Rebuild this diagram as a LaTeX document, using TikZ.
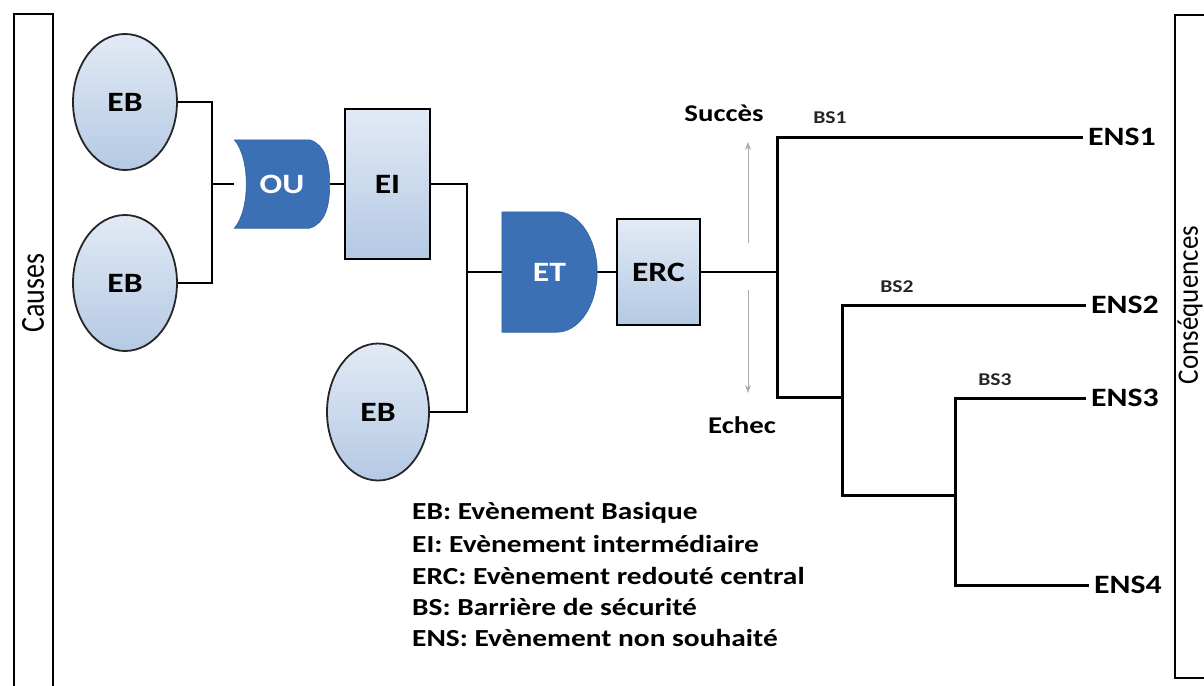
\documentclass[tikz,border=0pt]{standalone}
\usepackage{fontspec}
\setmainfont{Carlito}[FakeStretch=1.2]
\newfontfamily\plainfont{Carlito}
\usetikzlibrary{shapes.geometric,arrows.meta,calc}
\pgfdeclarelayer{bg}\pgfdeclarelayer{mid}
\pgfsetlayers{bg,mid,main}
\definecolor{gateblue}{HTML}{3B70B5}
\definecolor{lightA}{HTML}{E2EAF5}
\definecolor{lightB}{HTML}{B4C9E4}
\begin{document}
\begin{tikzpicture}[x=1pt,y=-1pt,
 ebnode/.style={ellipse, draw=black!85, line width=1.8pt, top color=lightA, bottom color=lightB, minimum width=104pt, minimum height=136pt, inner sep=0pt, font=\bfseries\fontsize{28}{30}\selectfont},
 boxnode/.style={rectangle, draw=black, line width=2.6pt, top color=lightA, bottom color=lightB, inner sep=0pt, font=\bfseries\fontsize{28}{30}\selectfont},
 gatenode/.style={rectangle, inner sep=0pt, text=white, font=\bfseries\fontsize{28}{30}\selectfont},
 gatefill/.style={fill=gateblue, draw=gateblue!85!black, line width=0.6pt},
 conn/.style={draw=black, line width=2.4pt},
 tree/.style={draw=black, line width=3pt},
 enslabel/.style={anchor=west, inner sep=5pt, font=\bfseries\fontsize{26.5}{28}\selectfont},
 bslabel/.style={inner sep=0pt, text=black!85, font=\bfseries\fontsize{18}{20}\selectfont},
 outcome/.style={inner sep=0pt, font=\bfseries\fontsize{24}{26}\selectfont},
 legend/.style={anchor=west, inner sep=0pt, font=\bfseries\fontsize{24.5}{26}\selectfont},
 hint/.style={draw=gray!65, line width=1pt, -{Stealth[length=8pt,width=6pt]}},
 frame/.style={draw=black, line width=2.2pt},
]
\useasboundingbox (0,0) rectangle (1204,685);

% side frames
\draw[frame] (14,700) -- (14,14) -- (53,14) -- (53,700);
\draw[frame] (1215,678) -- (1175,678) -- (1175,15) -- (1215,15);
\node[inner sep=0pt] (causes) at (33,293) {\rotatebox{90}{\scalebox{1}[1.2]{\plainfont\fontsize{28}{30}\selectfont Causes}}};
\node[inner sep=0pt] (conseq) at (1190,305) {\rotatebox{90}{\scalebox{1}[1.1]{\plainfont\fontsize{27}{29}\selectfont Conséquences}}};

% fault tree nodes
\node[ebnode] (eb1) at (125,102) {EB};
\node[ebnode] (eb2) at (125,283) {EB};
\node[ebnode, minimum width=102pt, minimum height=137pt] (eb3) at (378,412) {EB};
\node[gatenode, minimum width=95pt, minimum height=88pt] (ou) at (282,184) {OU};
\node[boxnode, minimum width=85pt, minimum height=150pt] (ei) at (387.5,184) {EI};
\node[gatenode, minimum width=95pt, minimum height=120pt] (et) at (549.5,272) {ET};
\node[boxnode, minimum width=83pt, minimum height=106pt] (erc) at (658.5,272) {ERC};

% gate shapes
\begin{pgfonlayer}{mid}
\path[gatefill] (ou.north west) -- ($(ou.north east)+(-20,0)$)
  .. controls ($(ou.north east)+(-5,5)$) and ($(ou.east)+(0,-24)$) .. (ou.east)
  .. controls ($(ou.east)+(0,24)$) and ($(ou.south east)+(-5,-5)$) .. ($(ou.south east)+(-20,0)$)
  -- (ou.south west)
  .. controls ($(ou.west)+(16,26)$) and ($(ou.west)+(16,-26)$) .. (ou.north west) -- cycle;
\path[gatefill] (et.north west) -- ($(et.north west)+(55,0)$)
  .. controls ($(et.north east)+(-18,0)$) and ($(et.east)+(0,-33)$) .. (et.east)
  .. controls ($(et.east)+(0,33)$) and ($(et.south east)+(-18,0)$) .. ($(et.south west)+(55,0)$)
  -- (et.south west) -- cycle;
\end{pgfonlayer}

% event tree labels
\node[enslabel] (ens1) at (1083,137) {ENS1};
\node[enslabel] (ens2) at (1086,305) {ENS2};
\node[enslabel] (ens3) at (1086,398) {ENS3};
\node[enslabel] (ens4) at (1089,585) {ENS4};
\node[bslabel] (bs1) at (830,118) {BS1};
\node[bslabel] (bs2) at (897,287) {BS2};
\node[bslabel] (bs3) at (995,380) {BS3};
\node[outcome] (succ) at (724,113) {Succès};
\node[outcome] (echec) at (742,425) {Echec};

% legend
\node[legend] (l1) at (412,513) {EB: Evènement Basique};
\node[legend] (l2) at (412,544) {EI: Evènement intermédiaire};
\node[legend] (l3) at (412,576) {ERC: Evènement redouté central};
\node[legend] (l4) at (412,607) {BS: Barrière de sécurité};
\node[legend] (l5) at (412,638) {ENS: Evènement non souhaité};

% helper coordinates
\coordinate (jA) at (212,0);
\coordinate (jB) at (467,0);
\coordinate (b1) at (777,0);
\coordinate (s1) at (777,397);
\coordinate (s2) at (842,397);
\coordinate (s3) at (842,495);
\coordinate (s4) at (955,495);
\coordinate (up0) at (748,243);
\coordinate (up1) at (748,142);
\coordinate (dn0) at (748,290);
\coordinate (dn1) at (748,393);

\begin{pgfonlayer}{bg}
\draw[conn] (eb1.east) -- (eb1.east -| jA) -- (jA |- eb2.east) -- (eb2.east);
\draw[conn] (jA |- ou.west) -- (ou.west);
\draw[conn] (ou.east) -- (ei.west);
\draw[conn] (ei.east) -- (ei.east -| jB) -- (jB |- eb3.east) -- (eb3.east);
\draw[conn] (jB |- et.west) -- (et.west);
\draw[conn] (et.east) -- (erc.west);
\draw[conn] (erc.east) -- (erc.east -| b1);
\draw[tree] (ens1.west) -| (s1) -- (s2);
\draw[tree] (ens2.west) -| (s3) -- (s4);
\draw[tree] (ens3.west) -| (s4 |- ens4.west) -- (ens4.west);
\draw[hint] (up0) -- (up1);
\draw[hint] (dn0) -- (dn1);
\end{pgfonlayer}
\end{tikzpicture}
\end{document}
